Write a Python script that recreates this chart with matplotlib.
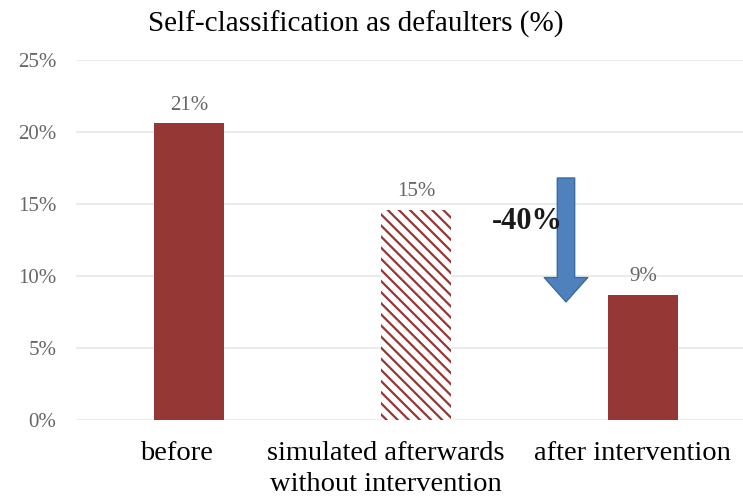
import numpy as np
import matplotlib.pyplot as plt
import matplotlib.transforms as mtransforms

# Self-classification as defaulters, share of respondents (%)
categories = ['before', 'simulated afterwards\nwithout intervention', 'after intervention']
values = [20.6, 14.6, 8.7]
value_labels = ['21%', '15%', '9%']
hatched = [False, True, False]
change_label = '-40%'

plt.rcParams['font.family'] = ['Liberation Serif', 'DejaVu Serif']
plt.rcParams['hatch.linewidth'] = 1.6

fig = plt.figure(figsize=(7.43, 5.03), dpi=100)
ax = fig.add_axes([0.102, 0.165, 0.898, 0.716])

bar_red = '#953735'
x = np.arange(len(categories))
for i in range(len(categories)):
    if hatched[i]:
        ax.bar(x[i], values[i], width=0.31, color='white', edgecolor=bar_red,
               hatch='\\\\\\', linewidth=0, zorder=3)
    else:
        ax.bar(x[i], values[i], width=0.31, color=bar_red, zorder=3)
    ax.text(x[i], values[i] + 0.6, value_labels[i], ha='center', va='bottom',
            fontsize=15, color='#666666')

ax.set_xlim(-0.5, 2.44)
ax.set_ylim(0, 25)
ax.set_yticks(np.arange(0, 26, 5))
ax.set_yticklabels([f'{v}%' for v in range(0, 26, 5)], fontsize=15, color='#666666')
ax.set_xticks(x)
ax.set_xticklabels(categories, fontsize=20.5, color='black', linespacing=1.3, va='top')
ax.tick_params(axis='both', length=0)
ax.tick_params(axis='x', pad=15)
ax.tick_params(axis='y', pad=14)
ax.grid(axis='y', color='#e8e8e8', linewidth=1.2, zorder=0)
for s in ax.spines.values():
    s.set_visible(False)

# labels sit a little left of the bars in the original
for lab, dx in zip(ax.get_xticklabels(), [-13, -30, -11]):
    lab.set_transform(lab.get_transform() + mtransforms.ScaledTranslation(dx / 100, 0, fig.dpi_scale_trans))

# arrow showing the reduction
ax.annotate('', xy=(1.66, 8.2), xytext=(1.66, 16.8),
            arrowprops=dict(arrowstyle='simple,head_width=1.25,head_length=0.7,tail_width=0.5',
                            facecolor='#4f81bd', edgecolor='#3a6a9e', linewidth=1,
                            mutation_scale=25, shrinkA=0, shrinkB=0),
            zorder=4)
ax.text(1.49, 13.8, change_label, ha='center', va='center', fontsize=22,
        fontweight='bold', color='#1a1a1a', zorder=5)

fig.text(0.479, 0.952, 'Self-classification as defaulters (%)', ha='center', va='center',
         fontsize=21, color='black')

fig.savefig('out.png', dpi=100)
